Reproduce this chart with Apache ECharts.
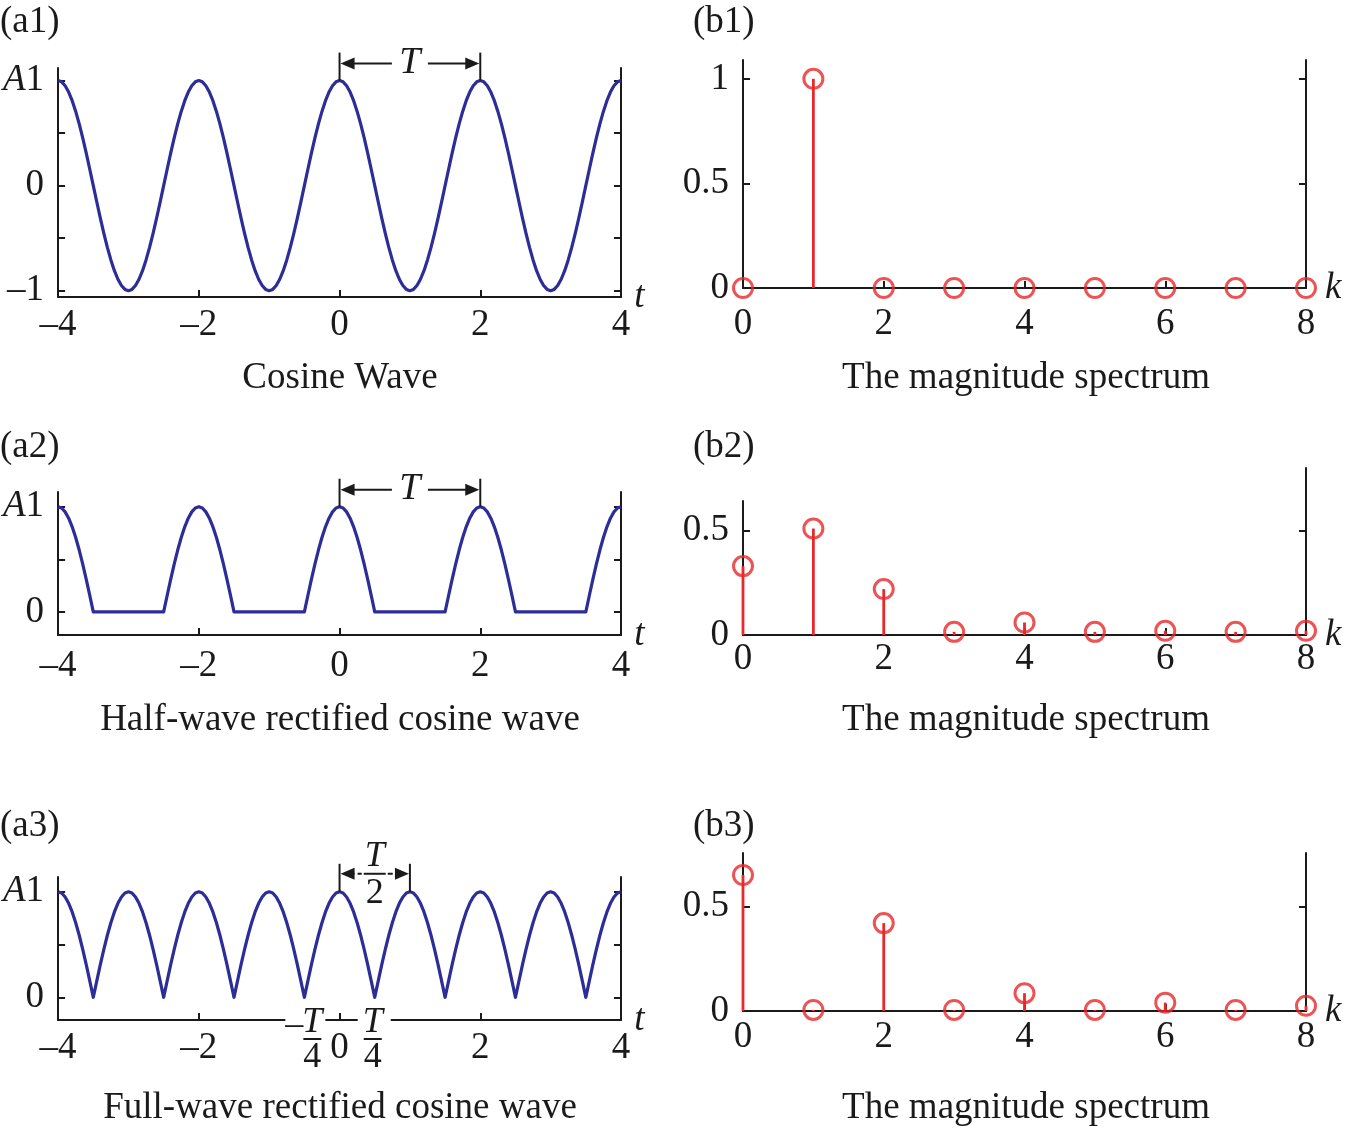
<!DOCTYPE html>
<html><head><meta charset="utf-8">
<script src="https://cdn.jsdelivr.net/npm/echarts@6/dist/echarts.min.js"></script>
<style>html,body{margin:0;padding:0;background:#fff}#c{width:1346px;height:1129px}</style>
</head><body><div id="c"></div>
<script>
// ---------------- data ----------------
const tValues = [
 -4,-3.95,-3.9,-3.85,-3.8,-3.75,-3.7,-3.65,-3.6,-3.55,-3.5,-3.45,-3.4,-3.35,-3.3,-3.25,-3.2,-3.15,-3.1,-3.05,
 -3,-2.95,-2.9,-2.85,-2.8,-2.75,-2.7,-2.65,-2.6,-2.55,-2.5,-2.45,-2.4,-2.35,-2.3,-2.25,-2.2,-2.15,-2.1,-2.05,
 -2,-1.95,-1.9,-1.85,-1.8,-1.75,-1.7,-1.65,-1.6,-1.55,-1.5,-1.45,-1.4,-1.35,-1.3,-1.25,-1.2,-1.15,-1.1,-1.05,
 -1,-0.95,-0.9,-0.85,-0.8,-0.75,-0.7,-0.65,-0.6,-0.55,-0.5,-0.45,-0.4,-0.35,-0.3,-0.25,-0.2,-0.15,-0.1,-0.05,
 0,0.05,0.1,0.15,0.2,0.25,0.3,0.35,0.4,0.45,0.5,0.55,0.6,0.65,0.7,0.75,0.8,0.85,0.9,0.95,
 1,1.05,1.1,1.15,1.2,1.25,1.3,1.35,1.4,1.45,1.5,1.55,1.6,1.65,1.7,1.75,1.8,1.85,1.9,1.95,
 2,2.05,2.1,2.15,2.2,2.25,2.3,2.35,2.4,2.45,2.5,2.55,2.6,2.65,2.7,2.75,2.8,2.85,2.9,2.95,
 3,3.05,3.1,3.15,3.2,3.25,3.3,3.35,3.4,3.45,3.5,3.55,3.6,3.65,3.7,3.75,3.8,3.85,3.9,3.95,
 4];
const cosineWave = [
 1,0.988,0.951,0.891,0.809,0.707,0.588,0.454,0.309,0.156,0,-0.156,-0.309,-0.454,-0.588,-0.707,-0.809,-0.891,-0.951,-0.988,
 -1,-0.988,-0.951,-0.891,-0.809,-0.707,-0.588,-0.454,-0.309,-0.156,0,0.156,0.309,0.454,0.588,0.707,0.809,0.891,0.951,0.988,
 1,0.988,0.951,0.891,0.809,0.707,0.588,0.454,0.309,0.156,0,-0.156,-0.309,-0.454,-0.588,-0.707,-0.809,-0.891,-0.951,-0.988,
 -1,-0.988,-0.951,-0.891,-0.809,-0.707,-0.588,-0.454,-0.309,-0.156,0,0.156,0.309,0.454,0.588,0.707,0.809,0.891,0.951,0.988,
 1,0.988,0.951,0.891,0.809,0.707,0.588,0.454,0.309,0.156,0,-0.156,-0.309,-0.454,-0.588,-0.707,-0.809,-0.891,-0.951,-0.988,
 -1,-0.988,-0.951,-0.891,-0.809,-0.707,-0.588,-0.454,-0.309,-0.156,0,0.156,0.309,0.454,0.588,0.707,0.809,0.891,0.951,0.988,
 1,0.988,0.951,0.891,0.809,0.707,0.588,0.454,0.309,0.156,0,-0.156,-0.309,-0.454,-0.588,-0.707,-0.809,-0.891,-0.951,-0.988,
 -1,-0.988,-0.951,-0.891,-0.809,-0.707,-0.588,-0.454,-0.309,-0.156,0,0.156,0.309,0.454,0.588,0.707,0.809,0.891,0.951,0.988,
 1];
const halfWave = [
 1,0.988,0.951,0.891,0.809,0.707,0.588,0.454,0.309,0.156,0,0,0,0,0,0,0,0,0,0,
 0,0,0,0,0,0,0,0,0,0,0,0.156,0.309,0.454,0.588,0.707,0.809,0.891,0.951,0.988,
 1,0.988,0.951,0.891,0.809,0.707,0.588,0.454,0.309,0.156,0,0,0,0,0,0,0,0,0,0,
 0,0,0,0,0,0,0,0,0,0,0,0.156,0.309,0.454,0.588,0.707,0.809,0.891,0.951,0.988,
 1,0.988,0.951,0.891,0.809,0.707,0.588,0.454,0.309,0.156,0,0,0,0,0,0,0,0,0,0,
 0,0,0,0,0,0,0,0,0,0,0,0.156,0.309,0.454,0.588,0.707,0.809,0.891,0.951,0.988,
 1,0.988,0.951,0.891,0.809,0.707,0.588,0.454,0.309,0.156,0,0,0,0,0,0,0,0,0,0,
 0,0,0,0,0,0,0,0,0,0,0,0.156,0.309,0.454,0.588,0.707,0.809,0.891,0.951,0.988,
 1];
const fullWave = [
 1,0.988,0.951,0.891,0.809,0.707,0.588,0.454,0.309,0.156,0,0.156,0.309,0.454,0.588,0.707,0.809,0.891,0.951,0.988,
 1,0.988,0.951,0.891,0.809,0.707,0.588,0.454,0.309,0.156,0,0.156,0.309,0.454,0.588,0.707,0.809,0.891,0.951,0.988,
 1,0.988,0.951,0.891,0.809,0.707,0.588,0.454,0.309,0.156,0,0.156,0.309,0.454,0.588,0.707,0.809,0.891,0.951,0.988,
 1,0.988,0.951,0.891,0.809,0.707,0.588,0.454,0.309,0.156,0,0.156,0.309,0.454,0.588,0.707,0.809,0.891,0.951,0.988,
 1,0.988,0.951,0.891,0.809,0.707,0.588,0.454,0.309,0.156,0,0.156,0.309,0.454,0.588,0.707,0.809,0.891,0.951,0.988,
 1,0.988,0.951,0.891,0.809,0.707,0.588,0.454,0.309,0.156,0,0.156,0.309,0.454,0.588,0.707,0.809,0.891,0.951,0.988,
 1,0.988,0.951,0.891,0.809,0.707,0.588,0.454,0.309,0.156,0,0.156,0.309,0.454,0.588,0.707,0.809,0.891,0.951,0.988,
 1,0.988,0.951,0.891,0.809,0.707,0.588,0.454,0.309,0.156,0,0.156,0.309,0.454,0.588,0.707,0.809,0.891,0.951,0.988,
 1];
const harmonicK = [0,1,2,3,4,5,6,7,8];
const spectrumCosine = [0,1,0,0,0,0,0,0,0];
const spectrumHalf = [0.33,0.51,0.22,0.015,0.06,0.015,0.02,0.015,0.02];
const spectrumFull = [0.65,0.005,0.42,0.005,0.085,0.005,0.04,0.005,0.025];
const captionsA = ['Cosine Wave','Half-wave rectified cosine wave','Full-wave rectified cosine wave'];
const captionB = 'The magnitude spectrum';
const panelLabelsA = ['(a1)','(a2)','(a3)'];
const panelLabelsB = ['(b1)','(b2)','(b3)'];

// ---------------- style ----------------
const FONT = '"Liberation Serif","Times New Roman",serif';
const INK = '#1a1a1a';
const BLUE = '#2d2d98';
const RED = '#e8282a';
const FS = 37;

const chart = echarts.init(document.getElementById('c'));

const grids = [
 {left:58, top:68, width:563, height:229},   // 0 a1
 {left:743, top:60, width:563, height:228},  // 1 b1
 {left:58, top:492, width:563, height:143},  // 2 a2
 {left:743, top:468, width:563, height:167}, // 3 b2 (right axis + data)
 {left:743, top:501, width:563, height:134}, // 4 b2 left axis
 {left:58, top:877, width:563, height:143},  // 5 a3
 {left:743, top:853, width:563, height:158}  // 6 b3
];

const fmtNum = v => v < 0 ? '\u2013' + Math.abs(v) : String(v);
const lineSt = {color: INK, width: 2};

function xAxis(gi, kind, margin) {
  const isT = kind === 't';
  return {
    type:'value', gridIndex:gi, min: isT ? -4 : 0, max: isT ? 4 : 8, interval:2,
    axisLine:{show:true, onZero:false, lineStyle:lineSt},
    axisTick:{show:true, inside:true, length:7, lineStyle:lineSt},
    axisLabel:{margin, fontFamily:FONT, fontSize:FS, color:INK, formatter:fmtNum},
    splitLine:{show:false},
    name: kind, nameLocation:'end', nameGap: isT ? 12 : 19,
    nameTextStyle:{fontFamily:FONT, fontSize:FS, fontStyle:'italic', color:INK}
  };
}
function hiddenX(gi){ return {type:'value', gridIndex:gi, min:0, max:8, show:false}; }
function yAxis(gi, pos, min, max, ticks, labels, withA) {
  return {
    type:'value', gridIndex:gi, position:pos, min, max,
    axisLine:{show:true, onZero:false, lineStyle:lineSt},
    axisTick:{show:true, inside:true, length:7, lineStyle:lineSt, customValues:ticks},
    axisLabel: labels ? {
      show:true, customValues:labels, margin:14, fontFamily:FONT, fontSize:FS, color:INK,
      formatter: v => (withA && v === 1) ? '{i|A}1' : fmtNum(v),
      rich:{i:{fontFamily:FONT, fontSize:FS, fontStyle:'italic', color:INK}}
    } : {show:false},
    splitLine:{show:false}
  };
}

const xAxes = [
  xAxis(0,'t',10), xAxis(1,'k',18), xAxis(2,'t',13), xAxis(3,'k',6),
  hiddenX(4), xAxis(5,'t',10), xAxis(6,'k',8)
];
const yAxes = [
  yAxis(0,'left',-1.06,1.12,[-1,-0.5,0,0.5,1],[-1,0,1],true),   // 0
  yAxis(0,'right',-1.06,1.12,[-1,-0.5,0,0.5,1],null),           // 1
  yAxis(1,'left',0,1.09,[0,0.5,1],[0,0.5,1]),                   // 2
  yAxis(1,'right',0,1.09,[0.5,1],null),                         // 3
  yAxis(2,'left',-0.22,1.14,[0,0.5,1],[0,1],true),              // 4
  yAxis(2,'right',-0.22,1.14,[0,0.5,1],null),                   // 5
  yAxis(3,'right',0,0.80,[0.5],null),                           // 6
  yAxis(4,'left',0,0.64,[0.5],[0,0.5]),                         // 7
  yAxis(5,'left',-0.215,1.14,[0,0.5,1],[0,1],true),             // 8
  yAxis(5,'right',-0.215,1.14,[0,0.5,1],null),                  // 9
  yAxis(6,'left',0,0.755,[0.5],[0,0.5]),                        // 10
  yAxis(6,'right',0,0.755,[0.5],null)                           // 11
];

function wave(xi, yi, arr) {
  return {type:'line', xAxisIndex:xi, yAxisIndex:yi, showSymbol:false,
    data: tValues.map((t,i)=>[t, arr[i]]), lineStyle:{color:BLUE, width:3.2, join:'round'}, silent:true, z:3};
}
function stems(xi, yi, arr) {
  return {type:'custom', xAxisIndex:xi, yAxisIndex:yi, clip:false, silent:true, z:4,
    data: harmonicK.map((k,i)=>[k, arr[i]]),
    renderItem:(params, api) => {
      const p0 = api.coord([api.value(0), 0]);
      const p1 = api.coord([api.value(0), api.value(1)]);
      return {type:'line', shape:{x1:p0[0], y1:p0[1], x2:p1[0], y2:p1[1]},
        style:{stroke:RED, lineWidth:2.8}};
    }};
}
function circles(xi, yi, arr) {
  return {type:'scatter', xAxisIndex:xi, yAxisIndex:yi, clip:false, silent:true, z:5,
    symbol:'circle', symbolSize:19,
    itemStyle:{color:'rgba(0,0,0,0)', borderColor:RED, borderWidth:3},
    data: harmonicK.map((k,i)=>[k, arr[i]])};
}

chart.setOption({
  animation:false,
  backgroundColor:'#fff',
  grid: grids,
  xAxis: xAxes,
  yAxis: yAxes,
  series: [
    wave(0,0,cosineWave),
    stems(1,2,spectrumCosine), circles(1,2,spectrumCosine),
    wave(2,4,halfWave),
    stems(3,6,spectrumHalf), circles(3,6,spectrumHalf),
    wave(5,8,fullWave),
    stems(6,10,spectrumFull), circles(6,10,spectrumFull)
  ]
});

// ---------------- annotations ----------------
const px = (xi, yi, pt) => chart.convertToPixel({xAxisIndex:xi, yAxisIndex:yi}, pt);
const g = [];
function txt(x, y, s, opt) {
  g.push({type:'text', z:100, style:Object.assign({
    x, y, text:s, fontFamily:FONT, fontSize:FS, fill:INK,
    align:'center', verticalAlign:'middle', textAlign:'center', textVerticalAlign:'middle'
  }, opt || {})});
}
function seg(x1, y1, x2, y2, extra) {
  g.push({type:'line', z:100, shape:{x1,y1,x2,y2}, style:Object.assign({stroke:INK, lineWidth:2}, extra||{})});
}
function head(xTip, y, dir) { // dir=-1 points left, +1 points right
  g.push({type:'polygon', z:100, shape:{points:[[xTip,y],[xTip - dir*14, y-6],[xTip - dir*14, y+6]]},
    style:{fill:INK}});
}
function period(xi, yi, xa, xb, fraction) {
  const A = px(xi, yi, [xa, 1]), B = px(xi, yi, [xb, 1]);
  const top = A[1] - 28, ay = A[1] - (fraction ? 18 : 17);
  seg(A[0], top, A[0], A[1]); seg(B[0], top, B[0], B[1]);
  const cx = (A[0] + B[0]) / 2;
  head(A[0] + 1, ay, -1); head(B[0] - 1, ay, 1);
  if (!fraction) {
    seg(A[0] + 10, ay, cx - 18, ay); seg(cx + 18, ay, B[0] - 10, ay);
    txt(cx, ay - 1, 'T', {fontStyle:'italic', fontSize:38});
  } else {
    seg(A[0] + 10, ay, cx - 13, ay, {lineDash:[5,3]}); seg(cx + 13, ay, B[0] - 10, ay, {lineDash:[5,3]});
    txt(cx, ay - 17, 'T', {fontStyle:'italic', fontSize:36});
    seg(cx - 11, ay, cx + 11, ay);
    txt(cx, ay + 20, '2', {fontSize:36});
  }
}
period(0, 0, 0, 2, false);
period(2, 4, 0, 2, false);
period(5, 8, 0, 1, true);

// a3 special tick labels -T/4 and T/4
(function(){
  const axY = px(5, 8, [0, -0.215])[1];
  const L = px(5, 8, [-0.5, 0])[0], R = px(5, 8, [0.5, 0])[0];
  g.push({type:'rect', z:99, shape:{x:L-19, y:axY-3, width:40, height:6}, style:{fill:'#fff'}});
  g.push({type:'rect', z:99, shape:{x:R-17, y:axY-3, width:33, height:6}, style:{fill:'#fff'}});
  txt(L - 10, axY + 6, '\u2013', {fontSize:36});
  txt(L + 8, axY + 3, 'T', {fontStyle:'italic', fontSize:36});
  seg(L - 1, axY + 19, L + 17, axY + 19);
  txt(L + 8, axY + 38, '4', {fontSize:36});
  txt(R - 2, axY + 3, 'T', {fontStyle:'italic', fontSize:36});
  seg(R - 11, axY + 19, R + 7, axY + 19);
  txt(R - 2, axY + 38, '4', {fontSize:36});
})();

// panel labels & captions
const rowsY = [22, 447, 826];
const captionY = [378, 720, 1108];
for (let r = 0; r < 3; r++) {
  txt(0, rowsY[r], panelLabelsA[r], {align:'left', textAlign:'left'});
  txt(693, rowsY[r], panelLabelsB[r], {align:'left', textAlign:'left'});
  txt(340, captionY[r], captionsA[r]);
  txt(1026, captionY[r], captionB);
}

chart.setOption({graphic: g});
</script>
</body></html>
